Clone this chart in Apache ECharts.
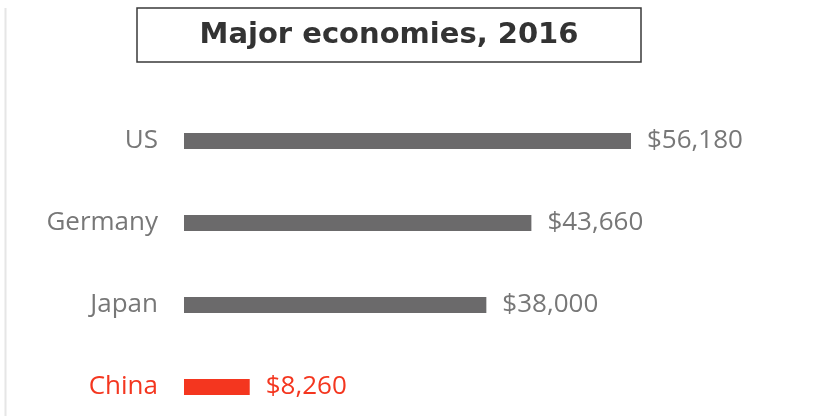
<!DOCTYPE html>
<html>
<head>
<meta charset="utf-8">
<script src="https://cdn.jsdelivr.net/npm/echarts@6/dist/echarts.min.js"></script>
<style>
  html, body { margin: 0; padding: 0; background: #fff; }
  #main { width: 832px; height: 418px; }
</style>
</head>
<body>
<div id="main"></div>
<script>
// GDP per capita, 2016
var countries = ['US', 'Germany', 'Japan', 'China'];
var gdpPerCapita = [56180, 43660, 38000, 8260];
var highlight = 'China';

var grey = '#6b6a6b';
var red = '#f4361f';
var labelFont = '"Open Sans", "Liberation Sans", sans-serif';

var chart = echarts.init(document.getElementById('main'), null, { renderer: 'canvas' });

var barData = countries.map(function (name, i) {
    var isHi = name === highlight;
    return {
        value: gdpPerCapita[i],
        itemStyle: { color: isHi ? red : grey },
        label: { color: isHi ? red : '#777' }
    };
});

var option = {
    backgroundColor: '#fff',
    animation: false,
    graphic: [
        {
            type: 'line',
            shape: { x1: 5.5, y1: 8, x2: 5.5, y2: 416 },
            style: { stroke: '#e6e6e6', lineWidth: 2 }
        },
        {
            type: 'rect',
            shape: { x: 137, y: 8, width: 504, height: 54 },
            style: { fill: '#fff', stroke: '#3a3a3a', lineWidth: 1.5 }
        },
        {
            type: 'text',
            x: 389,
            y: 35,
            style: {
                text: 'Major economies, 2016',
                fill: '#333',
                font: 'bold 29px "DejaVu Sans", sans-serif',
                textAlign: 'center',
                textVerticalAlign: 'middle'
            }
        }
    ],
    // categories sit on the ticks: US at top (141), China at bottom (387)
    grid: {
        left: 184,
        top: 141,
        width: 447,
        height: 246,
        containLabel: false
    },
    xAxis: {
        type: 'value',
        min: 0,
        max: 56180,
        show: false
    },
    yAxis: {
        type: 'category',
        data: countries,
        inverse: true,
        boundaryGap: false,
        axisLine: { show: false },
        axisTick: { show: false },
        splitLine: { show: false },
        axisLabel: {
            margin: 26,
            fontSize: 26,
            fontFamily: labelFont,
            color: function (val) {
                return val === highlight ? red : '#777';
            }
        }
    },
    series: [
        {
            type: 'bar',
            data: barData,
            barWidth: 16,
            label: {
                show: true,
                position: 'right',
                distance: 16,
                fontSize: 26,
                fontFamily: labelFont,
                formatter: function (p) {
                    return '$' + p.value.toLocaleString('en-US');
                }
            }
        }
    ]
};

chart.setOption(option);
</script>
</body>
</html>
